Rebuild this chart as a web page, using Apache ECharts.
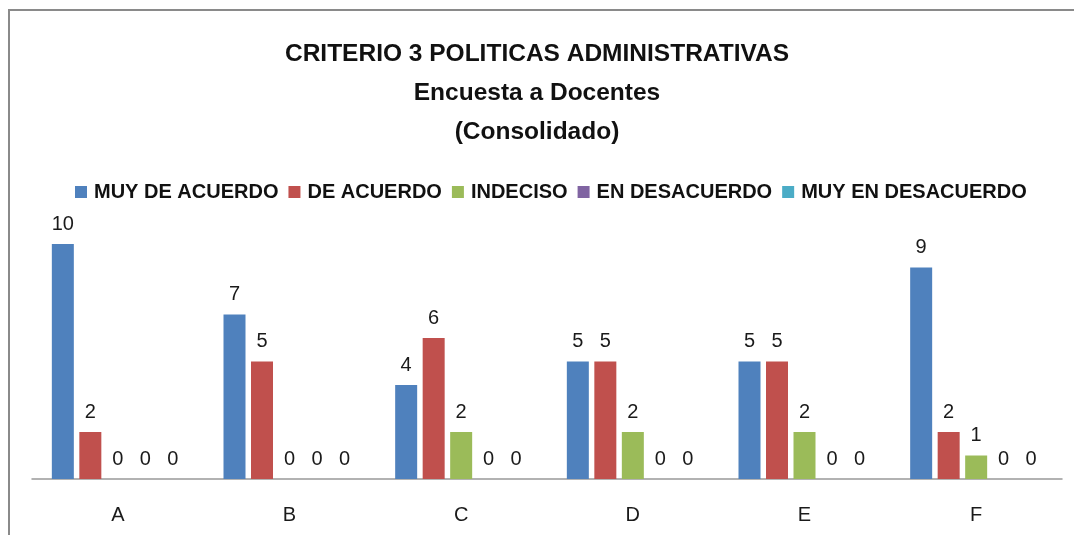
<!DOCTYPE html>
<html>
<head>
<meta charset="utf-8">
<script src="https://cdn.jsdelivr.net/npm/echarts@6/dist/echarts.min.js"></script>
<style>
  html, body { margin: 0; padding: 0; background: #fff; }
  #chart { width: 1074px; height: 535px; }
</style>
</head>
<body>
<div id="chart"></div>
<script>
// categorias y series
const categories = ['A', 'B', 'C', 'D', 'E', 'F']
const muyDeAcuerdo = [10, 7, 4, 5, 5, 9]
const deAcuerdo = [2, 5, 6, 5, 5, 2]
const indeciso = [0, 0, 2, 2, 2, 1]
const enDesacuerdo = [0, 0, 0, 0, 0, 0]
const muyEnDesacuerdo = [0, 0, 0, 0, 0, 0]

const seriesNames = ['MUY DE ACUERDO', 'DE ACUERDO', 'INDECISO', 'EN DESACUERDO', 'MUY EN DESACUERDO']
const seriesData = [muyDeAcuerdo, deAcuerdo, indeciso, enDesacuerdo, muyEnDesacuerdo]
const colors = ['#4F81BD', '#C0504D', '#9BBB59', '#8064A2', '#4BACC6']

const font = '"Liberation Sans Narrow", "Liberation Sans", sans-serif'

const chart = echarts.init(document.getElementById('chart'))

const series = seriesData.map((data, i) => {
    return {
        type: 'bar',
        name: seriesNames[i],
        data: data,
        barWidth: 22,
        barGap: '25%',
        itemStyle: { color: colors[i] },
        label: {
            show: true,
            position: 'top',
            distance: 10,
            color: '#1a1a1a',
            fontFamily: font,
            fontSize: 20
        }
    }
})

chart.setOption({
    color: colors,
    animation: false,
    title: {
        text: 'CRITERIO 3 POLITICAS ADMINISTRATIVAS\nEncuesta a Docentes\n(Consolidado)',
        left: 'center',
        top: 30,
        textStyle: {
            fontFamily: font,
            fontWeight: 'bold',
            fontSize: 24.5,
            lineHeight: 39,
            color: '#111'
        }
    },
    legend: {
        data: seriesNames,
        top: 177,
        left: 70,
        icon: 'rect',
        itemWidth: 12,
        itemHeight: 12,
        itemGap: 10,
        textStyle: {
            fontFamily: font,
            fontWeight: 'bold',
            fontSize: 20,
            color: '#111',
            padding: [0, 0, 0, 2]
        }
    },
    grid: {
        left: 32,
        right: 12,
        top: 244,
        bottom: 56
    },
    xAxis: {
        type: 'category',
        data: categories,
        axisLine: { lineStyle: { color: '#999', width: 1.5 } },
        axisTick: { show: false },
        axisLabel: {
            margin: 26,
            color: '#1a1a1a',
            fontFamily: font,
            fontSize: 20
        }
    },
    yAxis: {
        type: 'value',
        min: 0,
        max: 10,
        show: false
    },
    graphic: [{
        type: 'rect',
        shape: { x: 9, y: 10, width: 1200, height: 700 },
        style: { fill: 'none', stroke: '#8a8a8a', lineWidth: 2 },
        silent: true
    }],
    series: series
})
</script>
</body>
</html>
